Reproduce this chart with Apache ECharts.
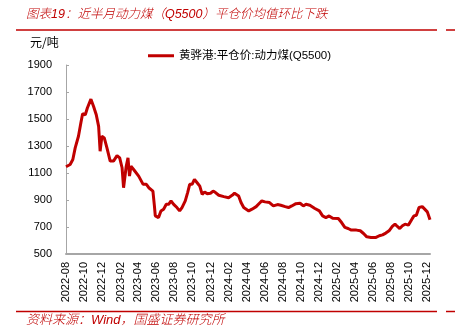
<!DOCTYPE html>
<html><head><meta charset="utf-8">
<script src="https://cdn.jsdelivr.net/npm/echarts@6/dist/echarts.min.js"></script>
<style>html,body{margin:0;padding:0;background:#fff}#c{width:455px;height:335px}</style>
</head><body><div id="c"></div>
<script>
const seriesName = '黄骅港:平仓价:动力煤(Q5500)';
const dates = [
'2022-08-01','2022-08-15','2022-08-24','2022-09-01','2022-09-12','2022-09-20','2022-09-26','2022-10-05','2022-10-12','2022-10-24',
'2022-11-02','2022-11-11','2022-11-19','2022-11-24','2022-11-30','2022-12-08','2022-12-17','2022-12-28','2023-01-08','2023-01-20',
'2023-01-29','2023-02-06','2023-02-11','2023-02-20','2023-02-26','2023-03-03','2023-03-08','2023-03-17','2023-04-03','2023-04-18',
'2023-04-29','2023-05-07','2023-05-21','2023-05-26','2023-05-29','2023-06-09','2023-06-17','2023-06-26','2023-07-05','2023-07-13',
'2023-07-21','2023-07-30','2023-08-10','2023-08-19','2023-08-27','2023-09-07','2023-09-15','2023-09-22','2023-09-30','2023-10-08',
'2023-10-17','2023-10-26','2023-11-03','2023-11-11','2023-11-20','2023-12-01','2023-12-10','2023-12-18','2023-12-29','2024-01-15',
'2024-01-31','2024-02-12','2024-02-20','2024-03-05','2024-03-13','2024-03-22','2024-04-08','2024-04-19','2024-05-03','2024-05-14',
'2024-05-22','2024-06-02','2024-06-17','2024-06-30','2024-07-14','2024-07-25','2024-08-09','2024-08-20','2024-08-31','2024-09-14',
'2024-09-28','2024-10-09','2024-10-18','2024-10-31','2024-11-17','2024-12-02','2024-12-13','2024-12-24','2025-01-04','2025-01-16',
'2025-02-04','2025-02-15','2025-02-26','2025-03-09','2025-03-20','2025-04-06','2025-04-19','2025-04-30','2025-05-11','2025-05-25',
'2025-06-11','2025-06-22','2025-07-03','2025-07-14','2025-07-25','2025-08-05','2025-08-14','2025-08-22','2025-08-30','2025-09-08',
'2025-09-17','2025-09-28','2025-10-10','2025-10-17','2025-10-25','2025-11-03','2025-11-14','2025-12-01','2025-12-10'
];
const prices = [
1146,1163,1200,1286,1372,1470,1539,1531,1581,1647,
1593,1531,1445,1261,1372,1360,1286,1188,1188,1229,
1212,1139,991,1150,1212,1077,1150,1126,1077,1016,
1016,991,966,856,782,770,819,832,868,868,
893,868,844,819,844,893,955,1016,1016,1053,
1028,1003,942,959,947,950,966,955,935,925,
917,935,950,930,881,844,819,832,851,876,
893,886,881,856,866,861,851,844,856,873,
876,856,868,861,837,819,782,770,782,765,
763,733,697,689,677,677,672,652,627,623,
623,635,642,655,672,704,721,704,689,709,
721,714,758,782,787,844,851,812,753
];
const tickLabels = ['2022-08','2022-10','2022-12','2023-02','2023-04','2023-06','2023-08','2023-10','2023-12',
'2024-02','2024-04','2024-06','2024-08','2024-10','2024-12','2025-02','2025-04','2025-06','2025-08','2025-10','2025-12'];
const yTicks = [500,700,900,1100,1300,1500,1700,1900];

const DAY = 86400000;
const dayNum = s => { const p = s.split('-').map(Number); return Date.UTC(p[0], p[1] - 1, p[2] || 1) / DAY; };
const tickDays = tickLabels.map(s => dayNum(s));
const labelMap = {};
tickDays.forEach((t, i) => { labelMap[t] = tickLabels[i]; });
const RED = '#C00000';

const chart = echarts.init(document.getElementById('c'), null, {renderer: 'canvas'});
chart.setOption({
  animation: false,
  backgroundColor: '#fff',
  textStyle: {fontFamily: 'Liberation Sans, Arial, Noto Sans CJK SC, sans-serif'},
  grid: {left: 66, right: 25, top: 65, bottom: 81, containLabel: false},
  legend: {
    left: 143, top: 45, icon: 'rect', itemWidth: 26, itemHeight: 3,
    textStyle: {fontSize: 11.5, color: '#000', fontFamily: 'Liberation Sans, Noto Sans CJK SC, sans-serif'},
    data: [seriesName]
  },
  xAxis: {
    type: 'value',
    min: dayNum(dates[0]), max: dayNum(dates[dates.length - 1]),
    axisLine: {show: true, lineStyle: {color: '#A6A6A6', width: 2}},
    axisTick: {show: false},
    splitLine: {show: false},
    axisLabel: {
      customValues: tickDays, rotate: 90, fontSize: 11, color: '#000', margin: 8,
      formatter: v => labelMap[v] || ''
    }
  },
  yAxis: {
    type: 'value', min: 500, max: 1900,
    axisLine: {show: true, lineStyle: {color: '#A6A6A6', width: 1}},
    axisTick: {show: true, inside: true, length: 3, customValues: yTicks, lineStyle: {color: '#A6A6A6'}},
    splitLine: {show: false},
    axisLabel: {customValues: yTicks, fontSize: 11, color: '#000', margin: 14, formatter: v => String(v)}
  },
  series: [{
    name: seriesName, type: 'line', showSymbol: false,
    data: dates.map((d, i) => [dayNum(d), prices[i]]),
    lineStyle: {color: RED, width: 3},
    itemStyle: {color: RED}
  }],
  graphic: [
    {type: 'text', left: 26, top: 8, style: {text: '图表19：近半月动力煤（Q5500）平仓价均值环比下跌', fill: RED, fontSize: 12.5, fontStyle: 'italic', fontWeight: 300, fontFamily: 'Liberation Sans, Noto Sans CJK SC, sans-serif'}},
    {type: 'line', shape: {x1: 16, y1: 30, x2: 437, y2: 30}, style: {stroke: RED, lineWidth: 1.5}},
    {type: 'line', shape: {x1: 446, y1: 30, x2: 455, y2: 30}, style: {stroke: RED, lineWidth: 1.5}},
    {type: 'text', left: 30, top: 36, style: {text: '元/吨', fill: '#000', fontSize: 12, fontFamily: 'Noto Sans CJK SC, sans-serif'}},
    {type: 'line', shape: {x1: 16, y1: 311.5, x2: 437, y2: 311.5}, style: {stroke: RED, lineWidth: 1.5}},
    {type: 'line', shape: {x1: 446, y1: 311.5, x2: 455, y2: 311.5}, style: {stroke: RED, lineWidth: 1.5}},
    {type: 'text', left: 26, top: 314, style: {text: '资料来源：Wind，国盛证券研究所', fill: RED, fontSize: 13, fontStyle: 'italic', fontWeight: 300, fontFamily: 'Liberation Sans, Noto Sans CJK SC, sans-serif'}}
  ]
});
</script>
</body></html>
